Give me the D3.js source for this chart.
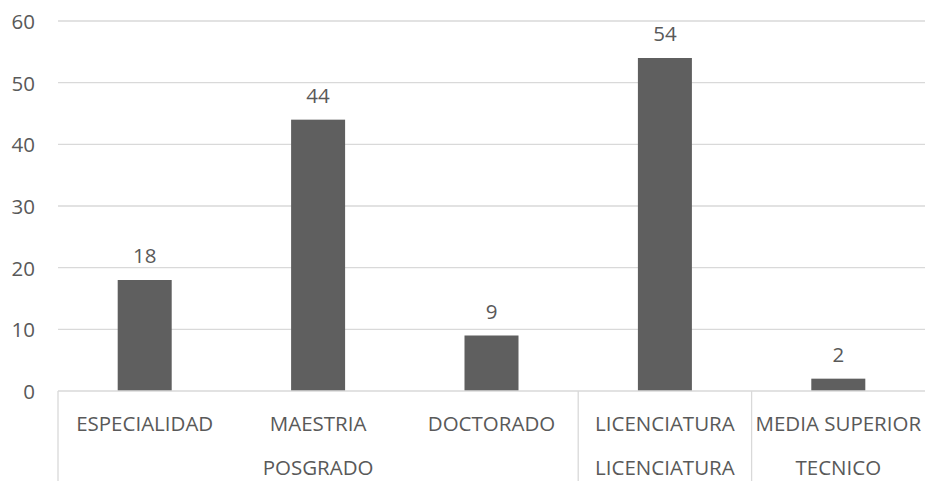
<!DOCTYPE html>
<html><head><meta charset="utf-8">
<script src="https://cdn.jsdelivr.net/npm/d3@7"></script>
<style>body{margin:0;background:#fff}svg{display:block}text{font-family:"Open Sans",sans-serif;fill:#595959}</style>
</head><body><svg id="c" width="926" height="481"></svg>
<script>
const categories = ["ESPECIALIDAD","MAESTRIA","DOCTORADO","LICENCIATURA","MEDIA SUPERIOR"];
const groups = ["POSGRADO","POSGRADO","POSGRADO","LICENCIATURA","TECNICO"];
const values = [18,44,9,54,2];
const yTicks = [0,10,20,30,40,50,60];

const svg = d3.select("#c");
const L=58, R=925, T=21, B=391;
const x = d3.scaleBand().domain(categories).range([L,R]).paddingInner(0).paddingOuter(0);
const y = d3.scaleLinear().domain([0,60]).range([B,T]);
const fs = 20.5;

svg.append("g").selectAll("line").data(yTicks.filter(d=>d>0)).join("line")
  .attr("x1",L).attr("x2",R).attr("y1",d=>y(d)).attr("y2",d=>y(d))
  .attr("stroke","#d9d9d9").attr("stroke-width",1.3);

svg.append("g").selectAll("text").data(yTicks).join("text")
  .attr("x",35).attr("y",d=>y(d)).attr("text-anchor","end").attr("dominant-baseline","central")
  .attr("font-size",fs).text(d=>d);

const bw = 54;
svg.append("g").selectAll("rect").data(values).join("rect")
  .attr("x",(d,i)=>x(categories[i])+x.bandwidth()/2-bw/2).attr("width",bw)
  .attr("y",d=>y(d)).attr("height",d=>B-y(d)).attr("fill","#5f5f5f");

svg.append("g").selectAll("text").data(values).join("text")
  .attr("x",(d,i)=>x(categories[i])+x.bandwidth()/2).attr("y",d=>y(d)-25)
  .attr("text-anchor","middle").attr("dominant-baseline","central").attr("font-size",fs).text(d=>d);

// axis
svg.append("line").attr("x1",L).attr("x2",R).attr("y1",B).attr("y2",B).attr("stroke","#d9d9d9").attr("stroke-width",1.3);
svg.append("g").selectAll("text").data(categories).join("text")
  .attr("x",d=>x(d)+x.bandwidth()/2).attr("y",423).attr("text-anchor","middle").attr("dominant-baseline","central")
  .attr("font-size",fs).text(d=>d);

// group spans
const spans=[];
groups.forEach((g,i)=>{ if(i>0 && groups[i-1]===g) spans[spans.length-1].end=i; else spans.push({g,start:i,end:i}); });
const seps = [L].concat(spans.map(s=>x(categories[s.end])+x.bandwidth()));
svg.append("g").selectAll("line").data(seps.slice(0,-1)).join("line")
  .attr("x1",d=>d).attr("x2",d=>d).attr("y1",B).attr("y2",481).attr("stroke","#d9d9d9").attr("stroke-width",1.3);
svg.append("g").selectAll("text").data(spans).join("text")
  .attr("x",s=>(x(categories[s.start])+x(categories[s.end])+x.bandwidth())/2).attr("y",467)
  .attr("text-anchor","middle").attr("dominant-baseline","central").attr("font-size",fs).text(s=>s.g);
</script></body></html>
